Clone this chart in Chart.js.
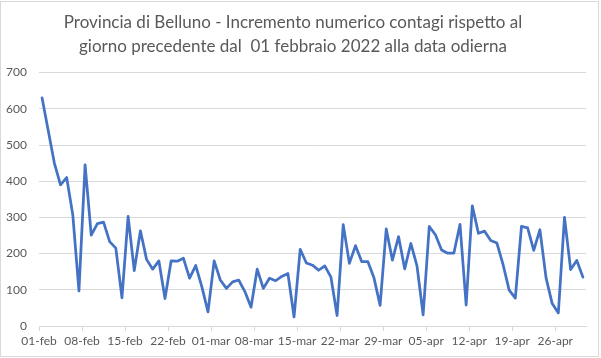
<!DOCTYPE html>
<html>
<head>
<meta charset="utf-8">
<script src="https://cdn.jsdelivr.net/npm/chart.js@4"></script>
<style>
  html, body { margin: 0; padding: 0; background: #ffffff; }
  #wrap { width: 601px; height: 358px; }
</style>
</head>
<body>
<div id="wrap"><canvas id="c" width="601" height="358"></canvas></div>
<script>
// ---- data ----
const titleLines = [
  "Provincia di Belluno - Incremento numerico contagi rispetto al",
  "giorno precedente dal  01 febbraio 2022 alla data odierna"
];
const months = ["feb", "mar", "apr"];
const daysInMonth = [28, 31, 30];
const valuesFeb = [630, 540, 450, 390, 410, 307, 97, 445, 251, 283, 287, 233, 215, 78, 303, 153, 263, 184, 157, 180, 76, 180, 179, 187, 132, 167, 108, 39];
const valuesMar = [180, 127, 104, 122, 127, 95, 52, 157, 104, 132, 125, 137, 145, 25, 212, 174, 168, 154, 166, 135, 29, 280, 173, 222, 178, 178, 133, 57, 268, 182, 247];
const valuesApr = [158, 228, 166, 31, 275, 252, 210, 201, 201, 281, 58, 332, 256, 262, 236, 229, 170, 99, 77, 275, 271, 209, 266, 133, 62, 36, 300, 156, 181, 135];
const tickLabels = ["01-feb", "08-feb", "15-feb", "22-feb", "01-mar", "08-mar", "15-mar", "22-mar", "29-mar", "05-apr", "12-apr", "19-apr", "26-apr"];
const yTicks = [0, 100, 200, 300, 400, 500, 600, 700];

// categories (dates) built from month names and day counts
const categories = [];
months.forEach((m, mi) => {
  for (let d = 1; d <= daysInMonth[mi]; d++) {
    categories.push(String(d).padStart(2, "0") + "-" + m);
  }
});
const values = valuesFeb.concat(valuesMar, valuesApr);
const points = values.map((v, i) => ({ x: i, y: v }));
const tickPositions = tickLabels.map(l => categories.indexOf(l) - 0.5);

const gray = "#595959";
const gridColor = "#d9d9d9";

const frame = {
  id: "frame",
  afterDraw(chart) {
    const ctx = chart.ctx;
    ctx.save();
    ctx.strokeStyle = gridColor;
    ctx.lineWidth = 1;
    ctx.strokeRect(0.5, 1.5, 598, 355);
    ctx.restore();
  }
};

new Chart(document.getElementById("c"), {
  type: "line",
  data: {
    datasets: [{
      data: points,
      borderColor: "#4472C4",
      borderWidth: 2.75,
      pointRadius: 0,
      tension: 0,
      fill: false,
      borderJoinStyle: "round",
      borderCapStyle: "round"
    }]
  },
  options: {
    responsive: false,
    animation: false,
    devicePixelRatio: 1,
    layout: { padding: { left: 0, right: 15, top: 0, bottom: 0 } },
    plugins: {
      legend: { display: false },
      tooltip: { enabled: false },
      title: {
        display: true,
        text: titleLines,
        color: gray,
        font: { family: "Lato", size: 17, weight: "normal", lineHeight: 1.4 },
        padding: { top: 11, bottom: 14 }
      }
    },
    scales: {
      x: {
        type: "linear",
        min: -0.5,
        max: values.length - 0.5,
        afterBuildTicks(scale) {
          scale.ticks = tickPositions.map(v => ({ value: v }));
        },
        afterFit(scale) { scale.height = 32; },
        ticks: {
          color: gray,
          font: { family: "Lato", size: 12 },
          padding: 3,
          maxRotation: 0,
          autoSkip: false,
          callback(v) {
            const k = tickPositions.indexOf(v);
            return k >= 0 ? tickLabels[k] : "";
          }
        },
        grid: { drawOnChartArea: false, drawTicks: true, tickLength: 5, color: gridColor },
        border: { display: true, color: gridColor, width: 1 }
      },
      y: {
        min: 0,
        max: 700,
        afterBuildTicks(scale) {
          scale.ticks = yTicks.map(v => ({ value: v }));
        },
        afterFit(scale) { scale.width = 39; },
        ticks: {
          color: gray,
          font: { family: "Lato", size: 12 },
          padding: 12
        },
        grid: { color: gridColor, drawTicks: false },
        border: { display: false }
      }
    }
  },
  plugins: [frame]
});
</script>
</body>
</html>
